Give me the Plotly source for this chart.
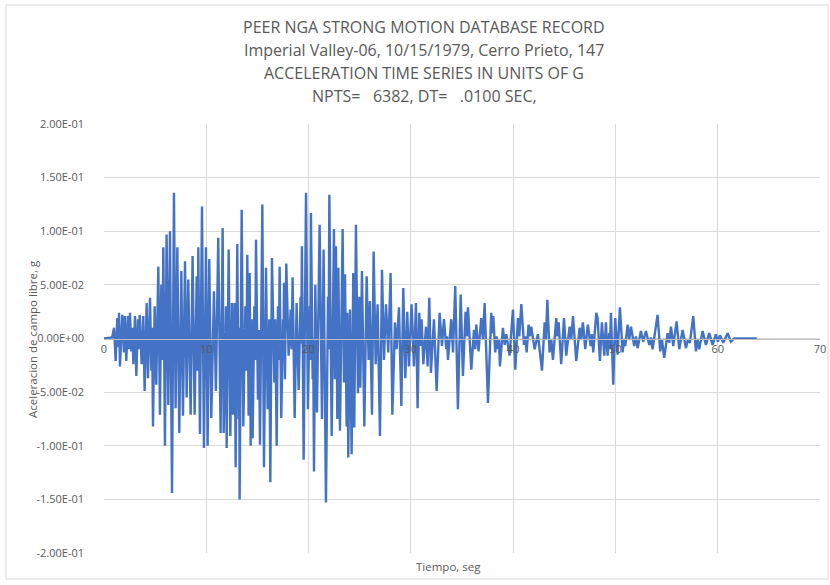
import plotly.graph_objects as go

# ---- data: peaks/troughs read from the record (time s, acceleration g) ----
t_seg1 = [0.00, 0.80, 0.98, 1.14, 1.30, 1.40, 1.47, 1.56, 1.79, 1.95, 2.05, 2.18, 2.35, 2.45, 2.54, 2.67,
          2.77, 2.87, 3.03, 3.16, 3.32, 3.40, 3.49, 3.68, 3.84, 3.97, 4.17, 4.30, 4.50, 4.63, 4.70, 4.79,
          4.95, 5.11, 5.31, 5.47, 5.60, 5.70, 5.80, 5.96, 6.12, 6.29, 6.45, 6.65, 6.84, 7.00, 7.17, 7.36,
          7.56, 7.72, 7.92, 8.08, 8.24, 8.47, 8.66, 8.86, 9.06, 9.14, 9.22, 9.38, 9.58, 9.77, 9.97, 10.13,
          10.29, 10.49, 10.75, 10.94, 11.17, 11.40, 11.60]
a_seg1 = [0.000, 0.001, 0.010, -0.021, 0.019, -0.008, 0.024, -0.026, 0.022, -0.013, 0.021, -0.021, 0.021, -0.010, 0.024, -0.012,
          0.010, -0.024, 0.021, -0.035, 0.018, -0.010, 0.022, -0.024, 0.021, -0.049, 0.033, -0.037, 0.038, -0.030, 0.010, -0.082,
          0.030, -0.043, 0.067, -0.071, 0.050, -0.020, 0.085, -0.100, 0.097, -0.062, 0.100, -0.144, 0.136, -0.065, 0.085, -0.088,
          0.063, -0.072, 0.072, -0.055, 0.055, -0.071, 0.077, -0.071, 0.058, -0.030, 0.085, -0.089, 0.123, -0.102, 0.085, -0.100,
          0.074, -0.074, 0.044, -0.049, 0.094, -0.088, 0.103]

t_seg2 = [11.70, 11.93, 11.99, 12.19, 12.35, 12.51, 12.61, 12.77, 12.87, 13.03, 13.16, 13.21, 13.26, 13.46, 13.62, 13.82,
          13.92, 14.01, 14.14, 14.24, 14.34, 14.44, 14.53, 14.70, 14.78, 14.86, 15.05, 15.15, 15.25, 15.48, 15.64, 15.84,
          16.00, 16.16, 16.26, 16.42, 16.65, 16.75, 16.88, 17.01, 17.10, 17.17, 17.33, 17.50, 17.55, 17.60, 17.69, 17.82,
          18.05, 18.25, 18.35, 18.44, 18.64, 18.83, 19.03, 19.22, 19.28, 19.35, 19.52, 19.75, 19.94, 20.10, 20.17, 20.23,
          20.40, 20.45, 20.53, 20.66, 20.82, 21.08, 21.31, 21.47, 21.70, 21.90, 21.96, 22.03]
a_seg2 = [-0.088, 0.030, -0.102, 0.083, -0.091, 0.033, -0.071, 0.033, -0.120, 0.088, -0.075, 0.010, -0.150, 0.120, -0.082, 0.030,
          -0.030, 0.078, -0.072, 0.061, -0.100, 0.018, -0.093, 0.030, -0.020, 0.092, -0.057, 0.008, -0.099, 0.125, -0.120, 0.066,
          -0.066, 0.018, -0.134, 0.075, -0.041, 0.018, -0.100, 0.030, -0.020, 0.067, -0.074, 0.018, -0.010, 0.052, -0.038, 0.070,
          -0.016, 0.027, -0.010, 0.057, -0.074, 0.033, -0.048, 0.039, -0.005, 0.086, -0.113, 0.136, -0.066, 0.030, -0.020, 0.117,
          -0.038, 0.000, -0.124, 0.050, -0.069, 0.106, -0.075, 0.083, -0.153, 0.039, -0.010, 0.134]

t_seg3 = [22.26, 22.48, 22.58, 22.68, 22.81, 22.91, 23.07, 23.33, 23.46, 23.56, 23.72, 23.79, 23.88, 24.05, 24.21, 24.37,
          24.47, 24.63, 24.83, 24.96, 25.06, 25.22, 25.45, 25.68, 25.87, 26.00, 26.20, 26.36, 26.56, 26.75, 26.98, 27.18,
          27.37, 27.57, 27.79, 28.02, 28.19, 28.45, 28.61, 28.84, 29.07, 29.26, 29.46, 29.65, 29.81, 30.07, 30.30, 30.50,
          30.66, 30.82, 30.95, 31.05, 31.22, 31.48, 31.64, 31.80, 31.96, 32.26, 32.52]
a_seg3 = [-0.091, 0.102, -0.038, 0.086, -0.075, 0.066, -0.086, 0.102, -0.041, 0.060, -0.082, 0.024, -0.111, 0.027, -0.108, 0.061,
          -0.083, 0.106, -0.051, 0.039, -0.046, 0.063, -0.082, 0.058, -0.020, 0.035, -0.071, 0.081, -0.024, 0.032, -0.091, 0.064,
          -0.020, 0.032, -0.013, 0.061, -0.071, 0.015, -0.010, 0.029, -0.063, 0.047, -0.037, 0.025, -0.026, 0.032, -0.026, 0.033,
          -0.065, 0.024, -0.007, 0.018, -0.024, 0.011, -0.026, 0.038, -0.032, 0.018, -0.049]

t_seg4 = [32.81, 33.04, 33.24, 33.46, 33.53, 33.63, 33.95, 34.12, 34.34, 34.60, 34.87, 35.09, 35.35, 35.48, 35.58, 35.91,
          36.17, 36.30, 36.40, 36.62, 36.88, 37.05, 37.21, 37.54, 37.86, 37.96, 38.06, 38.25, 38.38, 38.51, 38.61, 38.71,
          39.00, 39.17, 39.33, 39.65, 39.98, 40.21, 40.47, 40.60, 40.80, 41.06, 41.19, 41.32, 41.51, 41.64, 41.77, 42.10,
          42.42, 42.82, 43.08, 43.21, 43.34, 43.56, 43.73, 43.89, 44.22, 44.31, 44.45, 44.70, 44.97, 45.19, 45.52, 45.68,
          45.85, 46.17, 46.50, 46.66, 46.82, 47.05, 47.31, 47.57, 47.70, 47.83, 48.13]
a_seg4 = [0.024, -0.007, 0.018, -0.010, 0.002, -0.020, 0.018, -0.013, 0.049, -0.066, 0.041, -0.035, 0.025, 0.002, 0.029, -0.029,
          0.008, -0.010, 0.013, -0.012, 0.019, -0.001, 0.033, -0.060, 0.024, 0.005, 0.021, -0.013, 0.002, -0.010, -0.001, -0.026,
          0.010, -0.006, 0.004, -0.016, 0.027, -0.029, 0.019, 0.002, 0.032, -0.006, 0.002, -0.013, 0.013, 0.002, 0.011, -0.010,
          0.004, -0.030, 0.015, -0.001, 0.036, -0.013, -0.001, -0.020, 0.019, 0.002, 0.015, -0.024, 0.019, -0.016, 0.011, -0.001,
          0.021, -0.021, 0.010, -0.001, 0.015, -0.010, 0.013, -0.007, 0.004, -0.013, 0.024]

t_seg5 = [48.26, 48.48, 48.68, 48.91, 49.07, 49.23, 49.40, 49.46, 49.56, 49.79, 49.98, 50.21, 50.44, 50.70, 50.86, 50.96,
          51.19, 51.35, 51.52, 51.84, 52.00, 52.17, 52.49, 52.72, 52.98, 53.31, 53.47, 53.63, 54.12, 54.38, 54.55, 54.77,
          55.10, 55.26, 55.43, 55.65, 55.98, 56.24, 56.57, 56.89, 57.09, 57.28, 57.61, 57.87, 58.03, 58.19, 58.52, 58.85,
          59.17, 59.50, 59.82, 60.02, 60.22, 60.54, 60.97, 61.29, 61.62, 62.10, 63.81]
a_seg5 = [0.019, -0.021, 0.015, -0.016, 0.015, -0.016, 0.005, -0.010, 0.024, -0.043, 0.019, -0.015, 0.029, -0.013, -0.001, -0.007,
          0.013, -0.001, 0.011, -0.007, 0.002, -0.009, 0.007, -0.003, 0.007, -0.006, 0.001, -0.010, 0.022, -0.012, -0.001, -0.018,
          0.005, -0.004, 0.011, -0.007, 0.016, -0.010, 0.008, -0.009, -0.001, -0.004, 0.021, -0.012, -0.001, -0.010, 0.007, -0.006,
          0.005, -0.006, 0.004, -0.003, 0.003, -0.004, 0.005, -0.003, 0.000, 0.000, 0.000]

y_tickvals = [-0.2, -0.15, -0.1, -0.05, 0.0, 0.05, 0.1, 0.15, 0.2]
y_ticktext = ["-2.00E-01", "-1.50E-01", "-1.00E-01", "-5.00E-02", "0.00E+00",
              "5.00E-02", "1.00E-01", "1.50E-01", "2.00E-01"]
x_tickvals = [0, 10, 20, 30, 40, 50, 60, 70]

title_lines = ["PEER NGA STRONG MOTION DATABASE RECORD",
               "Imperial Valley-06, 10/15/1979, Cerro Prieto, 147",
               "ACCELERATION TIME SERIES IN UNITS OF G",
               "NPTS=\u00a0\u00a0\u00a06382, DT=\u00a0\u00a0\u00a0.0100 SEC,"]

t_all = t_seg1 + t_seg2 + t_seg3 + t_seg4 + t_seg5
a_all = a_seg1 + a_seg2 + a_seg3 + a_seg4 + a_seg5

FONT = "Open Sans"
GRAY = "#595959"

fig = go.Figure()
fig.add_trace(go.Scatter(x=t_all, y=a_all, mode="lines",
                         line=dict(color="#4472C4", width=2.4), showlegend=False))

# plot area: x 104..820, y 124..553
L, R, T, B = 104, 820, 124, 553
W, H = 830, 585
pw, ph = R - L, B - T

def px(xp):
    return (xp - L) / pw

def py(yp):
    return (B - yp) / ph

annotations = []
for i, (line, ypix) in enumerate(zip(title_lines, [27, 50, 73, 96])):
    annotations.append(dict(text=line, x=px(424), y=py(ypix), xref="paper", yref="paper",
                            xanchor="center", yanchor="middle", showarrow=False,
                            font=dict(family=FONT, size=16, color=GRAY)))
annotations.append(dict(text="Aceleracion de campo libre, g", x=px(32), y=py(339),
                        xref="paper", yref="paper", textangle=-90, showarrow=False,
                        xanchor="center", yanchor="middle",
                        font=dict(family=FONT, size=11.5, color=GRAY)))
annotations.append(dict(text="Tiempo, seg", x=px(448), y=py(566), xref="paper", yref="paper",
                        showarrow=False, xanchor="center", yanchor="middle",
                        font=dict(family=FONT, size=11.5, color=GRAY)))

fig.update_layout(
    width=W, height=H,
    margin=dict(l=L, r=W - R, t=T, b=H - B, autoexpand=False),
    paper_bgcolor="white", plot_bgcolor="white",
    font=dict(family=FONT, color=GRAY),
    annotations=annotations,
    shapes=[dict(type="rect", xref="paper", yref="paper",
                 x0=px(6), x1=px(828), y0=py(579), y1=py(5),
                 line=dict(color="#d9d9d9", width=1), fillcolor="rgba(0,0,0,0)", layer="below")],
    xaxis=dict(range=[0, 70], tickvals=x_tickvals, showgrid=True, gridcolor="#d9d9d9", gridwidth=1,
               zeroline=False, showline=True, linecolor="#bfbfbf", linewidth=1, automargin=False,
               anchor="free", position=0.5, ticks="", tickfont=dict(family=FONT, size=11, color=GRAY)),
    yaxis=dict(range=[-0.2, 0.2], tickvals=y_tickvals, ticktext=y_ticktext, showgrid=True,
               gridcolor="#d9d9d9", gridwidth=1, zeroline=False, showline=False, automargin=False,
               ticks="", ticklabelstandoff=19,
               tickfont=dict(family=FONT, size=11, color=GRAY)),
)

fig.write_html("out.html", config={"displayModeBar": False},
               post_script="document.body.style.margin='0';document.body.style.overflow='hidden';")
